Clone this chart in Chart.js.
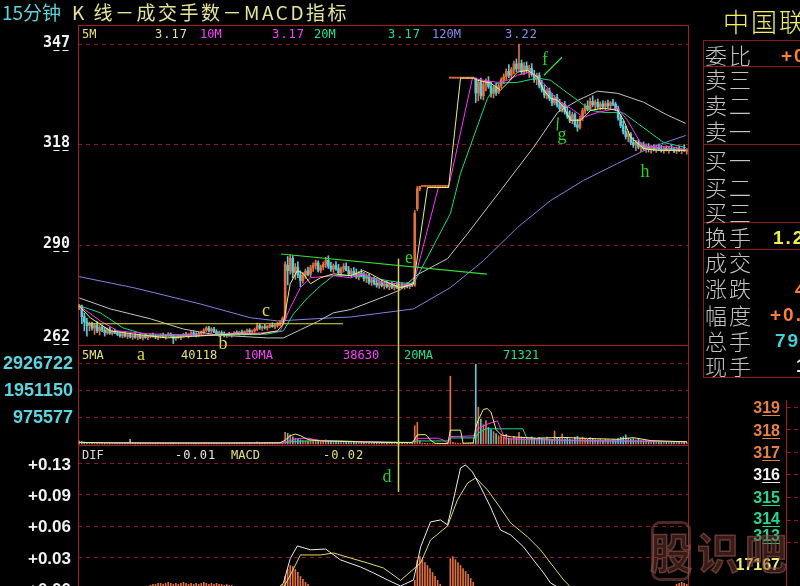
<!DOCTYPE html>
<html lang="zh">
<head>
<meta charset="utf-8">
<title>15分钟 K线-成交手数-MACD指标</title>
<script src="https://cdn.jsdelivr.net/npm/chart.js@4.4.1/dist/chart.umd.min.js"></script>
<style>
  html, body { margin: 0; padding: 0; background: #000; }
  body { position: relative; width: 800px; height: 586px; overflow: hidden; font-family: "Noto Sans CJK SC", "DejaVu Sans", sans-serif; }
  canvas { position: absolute; }
  #main { left: 0; top: 0; }
  #mini { left: 785px; top: 400px; }
  .t { position: absolute; white-space: nowrap; line-height: 1; }
  .hd { font-family: "DejaVu Sans Mono", monospace; font-size: 12px; }
  .hn { font-family: "DejaVu Sans Mono", monospace; font-size: 12px; letter-spacing: 1px; }
  .box { position: absolute; left: 703px; width: 120px; border: 1px solid #8a1a1a; box-sizing: border-box; }
  .lbl { position: absolute; left: 705px; font-size: 22px; color: #c4c4c4; letter-spacing: 2px; font-weight: 300; line-height: 1; white-space: nowrap; }
  .val { position: absolute; font-family: "Liberation Sans", sans-serif; font-weight: bold; font-size: 19px; letter-spacing: 2px; line-height: 1; white-space: nowrap; }
  .px { position: absolute; left: 700px; width: 80px; text-align: right; font-family: "Liberation Sans", sans-serif; font-weight: bold; font-size: 16px; line-height: 1; }
  .px u { text-underline-offset: 2px; }
  .wm { position: absolute; font-size: 42px; font-weight: bold; line-height: 1; color: rgba(120, 60, 50, 0.45); -webkit-text-stroke: 1.5px rgba(150, 85, 75, 0.6); }
</style>
</head>
<body>
<canvas id="main" width="800" height="586"></canvas>
<canvas id="mini" width="60" height="186"></canvas>

<!-- title -->
<div class="t" style="left:2px;top:2px;font-size:19px;color:#5cd4de;">15分钟</div>
<div class="t" style="left:72px;top:2px;font-size:19px;color:#e4e49a;letter-spacing:2.5px;">K 线－成交手数－MACD指标</div>

<!-- price pane header -->
<div class="t hd" style="left:82px;top:28px;color:#e8e070;">5M</div>
<div class="t hn" style="left:155px;top:28px;color:#e0e0a0;">3.17</div>
<div class="t hd" style="left:200px;top:28px;color:#ff40ff;">10M</div>
<div class="t hn" style="left:272px;top:28px;color:#ff40ff;">3.17</div>
<div class="t hd" style="left:314px;top:28px;color:#20e090;">20M</div>
<div class="t hn" style="left:388px;top:28px;color:#20e090;">3.17</div>
<div class="t hd" style="left:432px;top:28px;color:#8c8cf0;">120M</div>
<div class="t hn" style="left:505px;top:28px;color:#8c8cf0;">3.22</div>

<!-- volume pane header -->
<div class="t hd" style="left:82px;top:349px;color:#e8e070;">5MA</div>
<div class="t hd" style="left:181px;top:349px;color:#e8e070;">40118</div>
<div class="t hd" style="left:244px;top:349px;color:#ff40ff;">10MA</div>
<div class="t hd" style="left:343px;top:349px;color:#ff40ff;">38630</div>
<div class="t hd" style="left:404px;top:349px;color:#20e090;">20MA</div>
<div class="t hd" style="left:503px;top:349px;color:#20e090;">71321</div>

<!-- macd pane header -->
<div class="t hd" style="left:82px;top:449px;color:#d8d8d8;">DIF</div>
<div class="t hn" style="left:175px;top:449px;color:#e8e8e8;">-0.01</div>
<div class="t hd" style="left:231px;top:449px;color:#e8e070;">MACD</div>
<div class="t hn" style="left:323px;top:449px;color:#e8e070;">-0.02</div>

<!-- right panel -->
<div class="t" style="left:723px;top:8px;font-size:26px;color:#f0f060;letter-spacing:2px;font-weight:300;">中国联通</div>
<div class="box" style="top:40px;height:27px;"></div>
<div class="box" style="top:66px;height:79px;"></div>
<div class="box" style="top:144px;height:79px;"></div>
<div class="box" style="top:222px;height:28px;"></div>
<div class="box" style="top:249px;height:129px;"></div>
<div class="lbl" style="top:43px;">委比</div>
<div class="lbl" style="top:67px;">卖三</div>
<div class="lbl" style="top:93px;">卖二</div>
<div class="lbl" style="top:119px;">卖一</div>
<div class="lbl" style="top:148px;">买一</div>
<div class="lbl" style="top:175px;">买二</div>
<div class="lbl" style="top:200px;">买三</div>
<div class="lbl" style="top:225px;">换手</div>
<div class="lbl" style="top:250px;">成交</div>
<div class="lbl" style="top:276px;">涨跌</div>
<div class="lbl" style="top:303px;">幅度</div>
<div class="lbl" style="top:329px;">总手</div>
<div class="lbl" style="top:354px;">现手</div>
<div class="val" style="left:781px;top:46px;color:#ff8030;">+0.5</div>
<div class="val" style="left:773px;top:228px;color:#f0f040;">1.25</div>
<div class="val" style="left:795px;top:280px;color:#ff8030;">4</div>
<div class="val" style="left:770px;top:305px;color:#ff8030;">+0.32</div>
<div class="val" style="left:775px;top:331px;color:#40d0d8;">7906</div>
<div class="val" style="left:796px;top:356px;color:#e8e8e8;">1</div>

<!-- small quote ladder -->
<div class="px" style="top:400px;color:#e88040;">3<u>1</u><u>9</u></div>
<div class="px" style="top:423px;color:#e88040;">3<u>1</u><u>8</u></div>
<div class="px" style="top:445px;color:#e88040;">3<u>1</u><u>7</u></div>
<div class="px" style="top:467px;color:#f0f0f0;">3<u>1</u><u>6</u></div>
<div class="px" style="top:490px;color:#20d890;">3<u>1</u><u>5</u></div>
<div class="px" style="top:511px;color:#20d890;">3<u>1</u><u>4</u></div>
<div class="px" style="top:528px;color:#20d890;">3<u>1</u><u>3</u></div>
<div class="px" style="top:557px;color:#f0f070;">17167</div>

<!-- watermark -->
<div style="position:absolute;left:651px;top:521px;width:40px;height:60px;border:3px solid rgba(140,75,65,0.55);border-radius:9px;box-sizing:border-box;"></div>
<div class="wm" style="left:650px;top:530px;">股</div>
<div class="wm" style="left:697px;top:530px;">识</div>
<div class="wm" style="left:745px;top:530px;">吧</div>

<script>
// ---- 15 min bars: 15 sessions x 16 bars ----
const opens = [
  272.5,273,270,268.5,267.5,268,266.8,267.6,266,267,266.2,265.5,266.5,265.3,265.8,265.4,
  265,264.6,265.2,264.5,264.9,264.3,264.6,264.2,264.7,264,264.4,264.1,264.5,264.9,264.4,264.2,
  264.6,264.8,264.3,264.7,265.1,264.5,263.9,264.4,264.1,264.6,265,264.7,265.1,265.4,265,264.8,
  265.3,265.7,266.2,266.8,266,266.5,265.8,265.2,265.5,265.1,264.7,265,264.8,265.2,265.5,265.2,
  265.6,265.4,265.8,266.1,265.7,266,266.4,267.5,266.8,267.1,266.9,267.3,267.6,267.2,267.5,268,
  268.3,269.5,284.5,283,286.5,282.5,284,281.8,280.2,281.8,282.9,282,283.8,284.5,285.2,283.1,
  284.1,284.8,285.9,284.2,283.4,284.4,283.6,282.4,283.5,284.2,283.1,282,282.8,282.1,281.2,282.2,
  281.6,280.8,281.5,279.8,280.4,279.5,278.9,279.6,278.8,279.2,278.5,279,278.3,278.8,278.2,278.7,
  278.4,278.9,278.5,279.1,278.9,300.5,306.2,306.8,306.8,306.8,306.8,306.8,306.8,306.8,306.8,306.8,
  306.8,306.8,337.4,337.4,337.4,337.4,337.4,337.4,337.4,337.4,337.4,337.4,337.4,333.2,336.2,332.4,
  335.6,336.5,335,333.1,334.6,333.4,335.2,336.9,337.8,339.3,338.2,339.8,341.4,340,341.5,339.2,
  340.8,339.5,340.2,338.4,337,338.1,335.2,334,332.6,333.8,331.7,330.4,331.9,329.8,328.7,330,
  327.8,326.6,325.4,327.1,324.2,323.5,326,328.2,329.5,328.6,330.8,329.9,330.6,329.2,330.1,329.4,
  330.2,329.6,330.4,330,328.8,326.2,324,322.3,320.9,321.6,319.2,318.5,319.3,317.9,318.6,317.4,
  318.1,317.2,318,317.1,317.8,317.3,316.9,317.6,317,317.5,317.2,316.8,317.4,316.9,317.3,316.8
];
const highs = [
  273.5,273.3,271,269.5,268.5,268.5,268,268.6,267.5,267.6,267,266.8,267,266.2,266.5,266,
  265.8,265.5,265.6,265.3,265.4,265,265.2,264.9,265.1,264.8,265,264.6,265.3,265.4,265,264.8,
  265.2,265.4,264.9,265.5,265.4,264.9,264.6,265,264.7,265.3,265.6,265.2,265.8,265.9,265.5,265.6,
  266,266.6,267.2,267.3,266.9,267,266.3,265.9,266,265.7,265.3,265.6,265.4,265.8,266,265.9,
  266.2,266,266.5,266.6,266.3,266.8,268.2,268,267.4,267.8,267.5,268,268.3,267.9,268.4,268.8,
  270,285.5,287,287.5,287.2,285,285.5,283,282.5,283.5,284,284.5,285.2,286,285.8,284.6,
  285.5,286.8,287.2,285.4,284.9,285.6,284.8,284,285,285.2,284.2,283.6,283.9,283.5,282.8,283.4,
  282.5,282.2,282,281,281.2,280.6,280.2,280.5,279.9,280,279.6,279.8,279.4,279.6,279.2,279.5,
  279.3,279.6,279.4,279.8,300,306.8,306.8,306.8,306.8,306.8,306.8,306.8,306.8,306.8,306.8,306.8,
  306.8,306.8,337.4,337.4,337.4,337.4,337.4,337.4,337.4,337.4,337.4,337.4,337.4,337,337.4,336.5,
  337.2,337.8,336.4,335.2,336,335.8,337.5,338.6,340,341.2,340.4,342.2,342.8,347,342.5,341.8,
  342,341,341.5,339.6,338.8,338.9,336.8,335.5,334.4,334.6,333,332.5,332.8,331.4,330.5,330.8,
  329.4,328.2,327.8,327.6,325.8,326.6,328.9,330.1,331,331.8,332.4,331.2,331.5,330.7,331,330.9,
  331.2,330.8,331.4,330.6,329.5,327.1,325.3,323.8,322.4,322,320.6,319.8,320,319.2,319.4,318.8,
  318.9,318.5,318.6,318.2,318.8,318.4,318,318.3,317.9,318.5,317.8,317.9,318.2,317.6,318.6,317.5
];
const lows = [
  272,268,266,264.5,266,266.2,265,265.5,264.8,265.8,264.5,265,265,264.8,265.2,264.6,
  264.2,264,264.2,263.8,264,263.6,263.9,263.5,263.8,263.4,263.9,263.5,264,264.2,263.8,263.5,
  264,264.1,263.6,264.2,264.3,262.4,263.3,263.9,263.5,264.2,264.4,264,264.6,264.8,264.3,264.4,
  264.8,265.2,265.8,265.6,265.4,265.5,264.9,264.6,264.8,264.3,264.1,264.5,264.2,264.7,264.9,264.8,
  265,264.8,265.3,265.4,265.1,265.6,266,266.4,266.1,266.5,266.2,266.8,267,266.6,267,267.4,
  268,269,279,282,281,280.5,281,278.5,279.5,280.8,281.5,281.2,282.8,283.4,282.6,282.4,
  283.2,283.9,283.6,282.8,282.5,283.1,281.8,281.6,282.6,282.9,281.5,281.2,281.6,280.8,280.4,281.3,
  280,279.6,279.2,278.8,279,278.3,278,278.4,277.8,278.1,277.6,277.9,277.5,277.9,277.6,278,
  277.8,278.1,277.9,278.5,278.6,300,305.6,306.8,306.8,306.8,306.8,306.8,306.8,306.8,306.8,306.8,
  306.8,306.8,337.4,337.4,337.4,337.4,337.4,337.4,337.4,337.4,337.4,337.4,330.5,331,331.5,331.2,
  333.8,334.5,332,331.8,332.5,333,334.6,335.8,336.9,337.5,337.1,338.6,339.2,339.5,338.5,338.4,
  338.9,337.6,337.9,336.2,335.5,334.6,333.4,331.8,331.5,331,329.6,329.8,329.2,328,327.8,327.2,
  326,324.8,324.5,323.6,322.4,323,325.4,327.4,328.1,328.2,329.3,328.4,328.8,328.4,328.6,328.5,
  329,328.8,329.6,328.2,325.5,323.4,321.6,320.2,319.4,318.6,317.8,316.9,317.4,316.6,317,316.4,
  316.5,316.2,316.8,316.4,317,316.5,316.2,316.8,316.2,316.9,316.3,316.1,316.6,316,316.7,315.9
];
const closes = [
  273.2,270,268.5,267.5,268,266.8,267.6,266,267,266.2,265.5,266.5,265.3,265.8,265.4,265,
  264.6,265.2,264.5,264.9,264.3,264.6,264.2,264.7,264,264.4,264.1,264.5,264.9,264.4,264.2,264.6,
  264.8,264.3,264.7,265.1,264.5,263.9,264.4,264.1,264.6,265,264.7,265.1,265.4,265,264.8,265.3,
  265.7,266.2,266.8,266,266.5,265.8,265.2,265.5,265.1,264.7,265,264.8,265.2,265.5,265.2,265.6,
  265.4,265.8,266.1,265.7,266,266.4,267.5,266.8,267.1,266.9,267.3,267.6,267.2,267.5,268,268.3,
  269.5,284.8,283,286.5,282.5,284,281.8,280.2,281.8,282.9,282,283.8,284.5,285.2,283.1,284.1,
  284.8,285.9,284.2,283.4,284.4,283.6,282.4,283.5,284.2,283.1,282,282.8,282.1,281.2,282.2,281.6,
  280.8,281.5,279.8,280.4,279.5,278.9,279.6,278.8,279.2,278.5,279,278.3,278.8,278.2,278.7,278.4,
  278.9,278.5,279.1,278.9,299.2,306.2,306.8,306.8,306.8,306.8,306.8,306.8,306.8,306.8,306.8,306.8,
  306.8,306.8,337.4,337.4,337.4,337.4,337.4,337.4,337.4,337.4,337.4,337.4,333.2,336.2,332.4,335.6,
  336.5,335,333.1,334.6,333.4,335.2,336.9,337.8,339.3,338.2,339.8,341.4,340,341.5,339.2,340.8,
  339.5,340.2,338.4,337,338.1,335.2,334,332.6,333.8,331.7,330.4,331.9,329.8,328.7,330,327.8,
  326.6,325.4,327.1,324.2,323.5,326,328.2,329.5,328.6,330.8,329.9,330.6,329.2,330.1,329.4,330.2,
  329.6,330.4,330,328.8,326.2,324,322.3,320.9,321.6,319.2,318.5,319.3,317.9,318.6,317.4,318.1,
  317.2,318,317.1,317.8,317.3,316.9,317.6,317,317.5,317.2,316.8,317.4,316.9,317.3,316.8,317
];
const volumes = [
  110000,90000,70000,60000,45000,40000,52000,38000,45000,33000,41000,36000,30000,28000,35000,60000,
  42000,31000,27000,36000,170000,30000,22000,28000,33000,24000,21000,26000,30000,23000,27000,50000,
  38000,26000,22000,29000,24000,60000,31000,28000,28000,25000,22000,27000,30000,24000,26000,45000,
  40000,55000,62000,38000,34000,30000,28000,33000,27000,31000,29000,26000,32000,35000,30000,48000,
  36000,33000,41000,30000,28000,35000,75000,42000,38000,33000,36000,44000,39000,41000,58000,62000,
  90000,420000,380000,330000,260000,210000,170000,150000,120000,110000,95000,130000,140000,120000,100000,90000,
  110000,150000,130000,90000,80000,95000,70000,85000,100000,75000,65000,70000,60000,80000,65000,90000,
  70000,60000,55000,75000,50000,65000,45000,55000,60000,48000,52000,44000,58000,50000,46000,62000,
  55000,48000,60000,70000,660000,780000,120000,30000,25000,20000,18000,15000,14000,16000,12000,15000,
  13000,20000,2450000,60000,40000,30000,25000,22000,20000,26000,30000,45000,2880000,1330000,900000,700000,
  850000,600000,520000,450000,380000,300000,300000,250000,350000,220000,200000,280000,230000,420000,250000,200000,
  220000,180000,260000,200000,170000,240000,210000,190000,250000,180000,160000,470000,230000,200000,360000,190000,
  220000,180000,160000,240000,280000,210000,250000,190000,170000,230000,200000,160000,150000,180000,140000,170000,
  150000,130000,160000,140000,200000,240000,260000,330000,220000,180000,200000,150000,170000,140000,120000,130000,
  110000,100000,120000,90000,110000,80000,100000,90000,85000,95000,80000,70000,90000,75000,85000,60000
];
const macdHist = [
  -0.004,-0.004,-0.004,-0.004,-0.004,-0.004,-0.004,-0.004,-0.004,-0.004,-0.004,-0.004,-0.004,-0.004,-0.004,-0.004,
  -0.003,-0.003,-0.003,-0.003,-0.003,-0.003,-0.003,-0.003,-0.003,-0.003,-0.003,-0.003,0.003,0.004,0.004,0.005,
  0.005,0.004,0.005,0.006,0.005,0.004,0.005,0.004,0.005,0.006,0.005,0.004,0.005,0.004,0.005,0.004,
  0.005,0.006,0.005,0.004,0.005,0.004,0.005,0.004,0.004,0.003,0.004,0.003,0.003,0.002,0.002,0.002,
  0.001,0.001,0.001,0.001,0.001,0.001,0.001,0.001,0.001,0.001,0.001,0.001,0.001,0.001,0.001,0.001,
  0.004,0.012,0.019,0.023,0.022,0.019,0.016,0.012,0.009,0.006,0.004,0.002,0.001,0.001,0.001,0.001,
  0.001,0.001,0.001,0.001,-0.002,-0.003,-0.004,-0.005,-0.005,-0.006,-0.006,-0.006,-0.007,-0.007,-0.007,-0.007,
  -0.007,-0.007,-0.007,-0.007,-0.007,-0.007,-0.007,-0.007,-0.008,-0.008,-0.008,-0.008,-0.008,-0.008,-0.008,-0.008,
  -0.008,-0.008,-0.007,-0.006,0.008,0.028,0.032,0.029,0.026,0.023,0.02,0.016,0.012,0.008,0.004,0.002,
  0.001,0.001,0.03,0.032,0.029,0.026,0.023,0.02,0.017,0.014,0.01,0.006,-0.004,-0.008,-0.012,-0.014,
  -0.016,-0.017,-0.018,-0.018,-0.018,-0.017,-0.016,-0.015,-0.014,-0.013,-0.012,-0.012,-0.011,-0.011,-0.011,-0.011,
  -0.012,-0.012,-0.013,-0.013,-0.014,-0.014,-0.015,-0.015,-0.016,-0.016,-0.016,-0.016,-0.016,-0.015,-0.015,-0.015,
  -0.014,-0.014,-0.013,-0.012,-0.012,-0.011,-0.01,-0.009,-0.008,-0.007,-0.006,-0.006,-0.005,-0.005,-0.004,-0.004,
  -0.004,-0.003,-0.003,-0.004,-0.006,-0.008,-0.01,-0.012,-0.013,-0.013,-0.012,-0.011,-0.01,-0.009,-0.008,-0.007,
  -0.006,-0.005,-0.004,-0.003,-0.002,-0.001,-0.001,0.001,0.001,0.002,0.002,0.004,0.005,0.006,0.005,0.004
];

// moving averages, read as vertices [bar index, value]
const ma5Pts = [[0,273.1],[4.3,269.7],[12.2,266.0],[21.3,265.1],[34.6,264.0],[47.6,264.6],[60.6,265.1],[71.3,265.1],
  [78,266.0],[80.3,268.0],[83,279.3],[85.8,283.0],[88.2,282.1],[91,279.3],[94.9,281.0],[100,282.1],[106.7,281.6],
  [111.8,283.0],[114.6,282.1],[119.7,280.1],[126.4,278.2],[131.5,279.3],[137,306.5],[145.3,306.5],[150,337.4],
  [155.1,337.4],[156.7,336.8],[161.8,336.0],[165.7,334.0],[168.5,336.0],[172.4,339.1],[176.4,339.6],[180.3,337.7],
  [182.7,334.0],[185.4,331.7],[188.2,331.1],[190.6,329.2],[193.3,325.5],[197.2,325.5],[201.2,328.3],[206.3,328.9],
  [211.8,328.3],[214.2,325.5],[216.9,320.7],[219.7,319.0],[222,317.5],[227.6,317.0],[238.6,317.0]];
const ma10Pts = [[0,273.1],[8.3,268.8],[15,266.0],[28,265.1],[47.6,264.8],[71.3,265.4],[79.1,266.0],[83,272.5],
  [87,278.2],[91,281.0],[100,281.6],[106.7,281.0],[111.8,282.1],[119.7,279.6],[130.3,279.0],[131.5,279.3],
  [141.3,306.5],[145.3,306.5],[154.7,337.4],[159,336.8],[164.6,336.2],[168.5,336.8],[172.4,338.2],[177.5,339.1],
  [182.7,336.0],[188.2,331.1],[193.3,328.9],[198.4,326.3],[203.9,327.7],[211.8,328.9],[215.7,325.5],[220.9,319.0],
  [224.8,317.8],[232.7,318.1],[238.6,317.0]];
const ma20Pts = [[0,273.1],[8.3,271.1],[17.3,266.8],[28,264.6],[47.6,264.6],[74,265.1],[80.3,266.0],[84.3,270.8],
  [89.8,275.3],[94.9,278.7],[100,281.6],[106.7,281.6],[114.6,281.0],[126.4,279.6],[131.5,279.3],[146,299.1],
  [150,310.5],[160.6,331.7],[164.6,336.0],[172.4,336.2],[180.3,337.4],[185.4,336.8],[190.6,334.0],[196.1,331.1],
  [201.2,328.3],[206.3,327.7],[211.8,327.7],[214.2,327.5],[219.7,324.6],[229.9,319.2],[238.6,317.8]];
const ma60Pts = [[0,275.3],[12.2,272.2],[28,269.4],[41,266.5],[54.3,264.8],[74,264.0],[80.3,264.0],[87,266.3],
  [93.7,268.6],[100,271.1],[106.7,272.0],[119.7,275.6],[126.4,277.6],[133.1,281.9],[144.9,286.4],[152.8,293.5],
  [165.7,305.6],[178.7,317.8],[188.2,327.7],[196.1,331.1],[203.9,333.7],[211.8,333.1],[222,330.6],[231.5,326.9],
  [238.6,324.6]];
const ma120Pts = [[0,281.3],[21.3,278.2],[47.6,273.6],[67.3,269.7],[78,268.8],[100,269.7],[106.7,269.9],
  [131.5,272.2],[146,278.2],[159,285.8],[172.4,295.2],[185.4,302.8],[198.4,308.5],[211.8,313.3],[224.8,317.8],
  [238.6,321.2]];

const volMa5Pts = [[0,60000],[10,45000],[30,35000],[60,35000],[79,45000],[81,140000],[83,300000],[85,360000],
  [87,300000],[90,160000],[95,110000],[105,90000],[120,55000],[131,55000],[132,180000],[133,330000],[136,340000],
  [137,280000],[138,150000],[140,25000],[145,16000],[146,500000],[150,500000],[151,30000],[155,40000],[156,600000],
  [157,870000],[159,1250000],[160.5,1280000],[162,1150000],[164,520000],[166,330000],[170,260000],[180,210000],
  [190,240000],[200,200000],[212,170000],[218,230000],[225,120000],[239,80000]];
const volMa10Pts = [[0,55000],[20,40000],[60,35000],[80,40000],[82,100000],[86,200000],[90,210000],[92,170000],
  [96,110000],[110,85000],[125,55000],[131,55000],[133,200000],[141,210000],[143,150000],[145,30000],[146,270000],
  [155,290000],[157,560000],[160,700000],[164.5,840000],[166,500000],[167.5,190000],[180,150000],[200,130000],
  [239,80000]];
const volMa20Pts = [[0,50000],[40,40000],[80,40000],[84,90000],[95,130000],[100,120000],[110,90000],[131,55000],
  [133,110000],[145,110000],[146,220000],[156,220000],[157,400000],[160,549000],[174.5,549000],[176,220000],
  [185,150000],[200,110000],[239,90000]];

const difPts = [[0,-0.012],[30,-0.01],[60,-0.004],[78,0.0],[80.3,0.005],[83,0.03],[85.8,0.0428],[91,0.0389],
  [96.9,0.0397],[102.8,0.0287],[110.6,0.0216],[115.8,0.0155],[121.3,0.0084],[126.4,0.0023],[131.5,0.0084],
  [134.3,0.0418],[138.2,0.0671],[142.1,0.0691],[144.9,0.0641],[147.2,0.0894],[150,0.1217],[152,0.1247],
  [154.7,0.1176],[157.9,0.1024],[161.8,0.0822],[165.7,0.0590],[169.7,0.0540],[174.8,0.0418],[178.7,0.0286],
  [182.7,0.0155],[185.4,0.0054],[188.2,0.0013],[195,-0.008],[215,-0.012],[239,-0.01]];
const deaPts = [[0,-0.012],[60,-0.006],[80,-0.001],[83.5,0.0155],[87,0.0337],[94.9,0.0337],[100,0.0357],
  [106.7,0.0306],[113.4,0.0256],[119.7,0.0205],[126.4,0.008],[134.3,0.0256],[138.2,0.0488],[144.9,0.0630],
  [148.8,0.0894],[152.8,0.1065],[156,0.1116],[160.6,0.0995],[165.7,0.0812],[169.7,0.0661],[176.4,0.0519],
  [181.5,0.0388],[186.6,0.0216],[190.6,0.0084],[193.3,0.0013],[200,-0.008],[220,-0.018],[239,-0.02]];

// axis ticks
const priceTickVals = [262, 290.33, 318.67, 347];
const priceTickLabels = ['262', '290', '318', '347'];
const volTickVals = [975577, 1951150, 2926722];
const volTickLabels = ['975577', '1951150', '2926722'];
const macdTickVals = [0, 0.0317, 0.0633, 0.095, 0.1267];
const macdTickLabels = ['+0.00', '+0.03', '+0.06', '+0.09', '+0.13'];

// hand drawn marks (bar index / axis value)
const annoSegments = [
  { axis: 'yPrice', x0: 3.4, y0: 268.0, x1: 103.8, y1: 268.0, color: '#e4dc40' },
  { axis: 'yPrice', x0: 79.4, y0: 287.7, x1: 160.4, y1: 282.0, color: '#36dc36' },
  { axis: 'yPrice', x0: 182.8, y0: 338.2, x1: 189.9, y1: 343.3, color: '#36dc36' },
  { axis: 'yPrice', x0: 188.4, y0: 326.3, x1: 188.0, y1: 322.6, color: '#36dc36' }
];
const splitMark = { x: 125.4, fromAxis: 'yPrice', from: 286.4, toAxis: 'yMacd', to: 0.0975, color: '#d8d060' };
const annoLetters = [
  { t: 'a', x: 24.3, axis: 'yVol', y: 3216000, color: '#e4dc40' },
  { t: 'b', x: 56.5, axis: 'yPrice', y: 262.3, color: '#e4dc40' },
  { t: 'c', x: 73.5, axis: 'yPrice', y: 271.4, color: '#e4dc40' },
  { t: 'd', x: 121.1, axis: 'yMacd', y: 0.1127, color: '#28d028' },
  { t: 'e', x: 129.7, axis: 'yPrice', y: 286.4, color: '#28d028' },
  { t: 'f', x: 183.2, axis: 'yPrice', y: 342.5, color: '#28d028' },
  { t: 'g', x: 189.9, axis: 'yPrice', y: 321.2, color: '#28d028' },
  { t: 'h', x: 222.6, axis: 'yPrice', y: 310.7, color: '#28d028' }
];

const UP = '#e0703c';
const DOWN = '#5cc8dc';
const GRID = '#8a1a1a';
const BORDER = '#a81c1c';

const idx = closes.map((_, i) => i);
const barColor = idx.map(i => closes[i] >= opens[i] ? UP : DOWN);
const pts = arr => arr.map(([x, y]) => ({ x, y }));

function line(data, axis, color, order) {
  return { type: 'line', data: pts(data), yAxisID: axis, borderColor: color, borderWidth: 1,
           pointRadius: 0, tension: 0, order };
}

function drawTickLabels(ctx, scale, vals, labels, o) {
  ctx.font = o.font;
  ctx.fillStyle = o.color;
  ctx.strokeStyle = o.color;
  ctx.textAlign = 'right';
  ctx.textBaseline = 'middle';
  vals.forEach((v, k) => {
    let y = scale.getPixelForValue(v) + o.dy;
    if (o.clamp) y = Math.min(y, scale.bottom - 8);
    ctx.fillText(labels[k], o.x, y);
    if (o.underline) {
      const w = ctx.measureText(labels[k]).width;
      const cw = w / labels[k].length;
      ctx.lineWidth = 1;
      for (let c = 1; c < labels[k].length; c++) {
        const x0 = o.x - w + c * cw + 1.5;
        ctx.beginPath();
        ctx.moveTo(x0, Math.round(y + 7) + 0.5);
        ctx.lineTo(x0 + cw - 3, Math.round(y + 7) + 0.5);
        ctx.stroke();
      }
    }
  });
}

const panePlugin = {
  id: 'panes',
  beforeDatasetsDraw(chart) {
    const { ctx, chartArea: a, scales: s } = chart;
    ctx.save();
    ctx.lineWidth = 1;
    ctx.strokeStyle = GRID;
    ctx.setLineDash([4, 4]);
    [[s.yPrice, priceTickVals], [s.yVol, volTickVals], [s.yMacd, macdTickVals]].forEach(([sc, vals]) => {
      vals.forEach(v => {
        const y = Math.round(sc.getPixelForValue(v)) + 0.5;
        if (y < sc.top + 2 || y > sc.bottom - 2) return;
        ctx.beginPath(); ctx.moveTo(a.left, y); ctx.lineTo(a.right, y); ctx.stroke();
      });
    });
    ctx.setLineDash([]);
    ctx.strokeStyle = BORDER;
    [s.yPrice.top, s.yVol.top, s.yMacd.top].forEach(y0 => {
      const y = Math.round(y0) + 0.5;
      ctx.beginPath(); ctx.moveTo(a.left, y); ctx.lineTo(a.right, y); ctx.stroke();
    });
    [a.left, a.right].forEach(x0 => {
      const x = Math.round(x0) + 0.5;
      ctx.beginPath(); ctx.moveTo(x, a.top); ctx.lineTo(x, a.bottom); ctx.stroke();
    });
    ctx.restore();
  },
  afterDatasetsDraw(chart) {
    const { ctx, scales: s } = chart;
    ctx.save();
    ctx.lineWidth = 1.2;
    annoSegments.forEach(g => {
      const sc = s[g.axis];
      ctx.strokeStyle = g.color;
      ctx.beginPath();
      ctx.moveTo(s.x.getPixelForValue(g.x0), sc.getPixelForValue(g.y0));
      ctx.lineTo(s.x.getPixelForValue(g.x1), sc.getPixelForValue(g.y1));
      ctx.stroke();
    });
    const vx = Math.round(s.x.getPixelForValue(splitMark.x)) + 0.5;
    ctx.strokeStyle = splitMark.color;
    ctx.lineWidth = 1.5;
    ctx.beginPath();
    ctx.moveTo(vx, s[splitMark.fromAxis].getPixelForValue(splitMark.from));
    ctx.lineTo(vx, s[splitMark.toAxis].getPixelForValue(splitMark.to));
    ctx.stroke();
    ctx.font = '18px "Liberation Serif", serif';
    ctx.textAlign = 'center';
    ctx.textBaseline = 'middle';
    annoLetters.forEach(l => {
      ctx.fillStyle = l.color;
      ctx.fillText(l.t, s.x.getPixelForValue(l.x), s[l.axis].getPixelForValue(l.y));
    });
    ctx.restore();
  },
  afterDraw(chart) {
    const { ctx, scales: s } = chart;
    ctx.save();
    drawTickLabels(ctx, s.yPrice, priceTickVals, priceTickLabels,
      { font: 'bold 15px "DejaVu Sans Mono", monospace', color: '#f2f2f2', x: 70, dy: -1, clamp: true, underline: true });
    drawTickLabels(ctx, s.yVol, volTickVals, volTickLabels,
      { font: 'bold 18px "Liberation Sans", sans-serif', color: '#5ad4de', x: 73, dy: 1 });
    drawTickLabels(ctx, s.yMacd, macdTickVals, macdTickLabels,
      { font: 'bold 17px "Liberation Sans", sans-serif', color: '#f2f2f2', x: 71, dy: 2 });
    ctx.restore();
  }
};

const hiddenAxis = { ticks: { display: false }, grid: { display: false }, border: { display: false } };

new Chart(document.getElementById('main'), {
  type: 'bar',
  data: {
    datasets: [
      { type: 'bar', data: idx.map(i => ({ x: i, y: [lows[i], highs[i]] })), yAxisID: 'yPrice',
        backgroundColor: barColor, barThickness: 1, grouped: false, order: 21 },
      { type: 'bar', data: idx.map(i => ({ x: i, y: [opens[i], closes[i]] })), yAxisID: 'yPrice',
        backgroundColor: barColor, barThickness: 2, minBarLength: 1, grouped: false, order: 20 },
      line(ma120Pts, 'yPrice', '#8080e4', 6),
      line(ma60Pts, 'yPrice', '#c4c4c4', 5),
      line(ma20Pts, 'yPrice', '#12dc84', 4),
      line(ma10Pts, 'yPrice', '#ff30ff', 3),
      line(ma5Pts, 'yPrice', '#eeee78', 2),
      { type: 'bar', data: idx.map(i => ({ x: i, y: volumes[i] })), yAxisID: 'yVol',
        backgroundColor: barColor, barThickness: 1, grouped: false, order: 20 },
      line(volMa20Pts, 'yVol', '#12dc84', 4),
      line(volMa10Pts, 'yVol', '#ff30ff', 3),
      line(volMa5Pts, 'yVol', '#eeee78', 2),
      { type: 'bar', data: idx.map(i => ({ x: i, y: macdHist[i] })), yAxisID: 'yMacd',
        backgroundColor: macdHist.map(v => v >= 0 ? UP : DOWN), barThickness: 1, grouped: false, order: 20 },
      line(deaPts, 'yMacd', '#e0dc60', 2),
      line(difPts, 'yMacd', '#ececec', 1)
    ]
  },
  options: {
    responsive: false,
    animation: false,
    events: [],
    layout: { padding: { left: 0, top: 25, right: 112, bottom: 0 } },
    plugins: { legend: { display: false }, tooltip: { enabled: false } },
    scales: {
      x: { type: 'linear', min: -0.5, max: 239.5, offset: false, display: false },
      yMacd: { type: 'linear', position: 'left', stack: 'panes', stackWeight: 141, min: 0.0023, max: 0.1449,
               ...hiddenAxis, afterFit(sc) { sc.width = 78; } },
      yVol: { type: 'linear', position: 'left', stack: 'panes', stackWeight: 100, min: -36000, max: 3577000,
              ...hiddenAxis, afterFit(sc) { sc.width = 78; } },
      yPrice: { type: 'linear', position: 'left', stack: 'panes', stackWeight: 320, min: 262, max: 352.4,
                ...hiddenAxis, afterFit(sc) { sc.width = 78; } }
    }
  },
  plugins: [panePlugin]
});

// ---- intraday mini chart at the lower right (only its left edge shows) ----
const miniPricePts = [[0.67,315.0],[1.33,315.9],[2,318.9],[4,319.0],[6.67,319.0],[7,317.0],[9.33,317.0],[16,317.0],[30,316.9]];
const miniAvgPts = [[2.67,315.6],[4.67,316.3],[7.33,316.6],[9.33,316.8],[16,316.8],[30,316.8]];
const miniVolX = [0.67, 1.33, 2.67, 7.33];
const miniVol = [43, 43, 12, 19];
const miniTickVals = [313, 314, 315, 316, 317, 318, 319];

new Chart(document.getElementById('mini'), {
  type: 'line',
  data: {
    datasets: [
      { type: 'bar', data: miniVolX.map((x, k) => ({ x, y: miniVol[k] })), yAxisID: 'yV',
        backgroundColor: '#e8e050', barThickness: 1, grouped: false, order: 3 },
      { type: 'line', data: pts(miniAvgPts), yAxisID: 'yP', borderColor: '#e0d040', borderWidth: 1, pointRadius: 0, order: 2 },
      { type: 'line', data: pts(miniPricePts), yAxisID: 'yP', borderColor: '#f0f0f0', borderWidth: 1, pointRadius: 0, order: 1 }
    ]
  },
  options: {
    responsive: false,
    animation: false,
    events: [],
    layout: { padding: 0 },
    plugins: { legend: { display: false }, tooltip: { enabled: false } },
    scales: {
      x: { type: 'linear', min: 0, max: 39, display: false },
      yP: { position: 'left', min: 311.07, max: 319.33,
            ticks: { display: false }, grid: { color: GRID, drawTicks: false },
            border: { display: true, color: BORDER, dash: [4, 3] },
            afterFit(sc) { sc.width = 1; },
            afterBuildTicks(sc) { sc.ticks = miniTickVals.map(v => ({ value: v })); } },
      yV: { display: false, min: 0, max: 186 }
    }
  }
});
</script>
</body>
</html>
